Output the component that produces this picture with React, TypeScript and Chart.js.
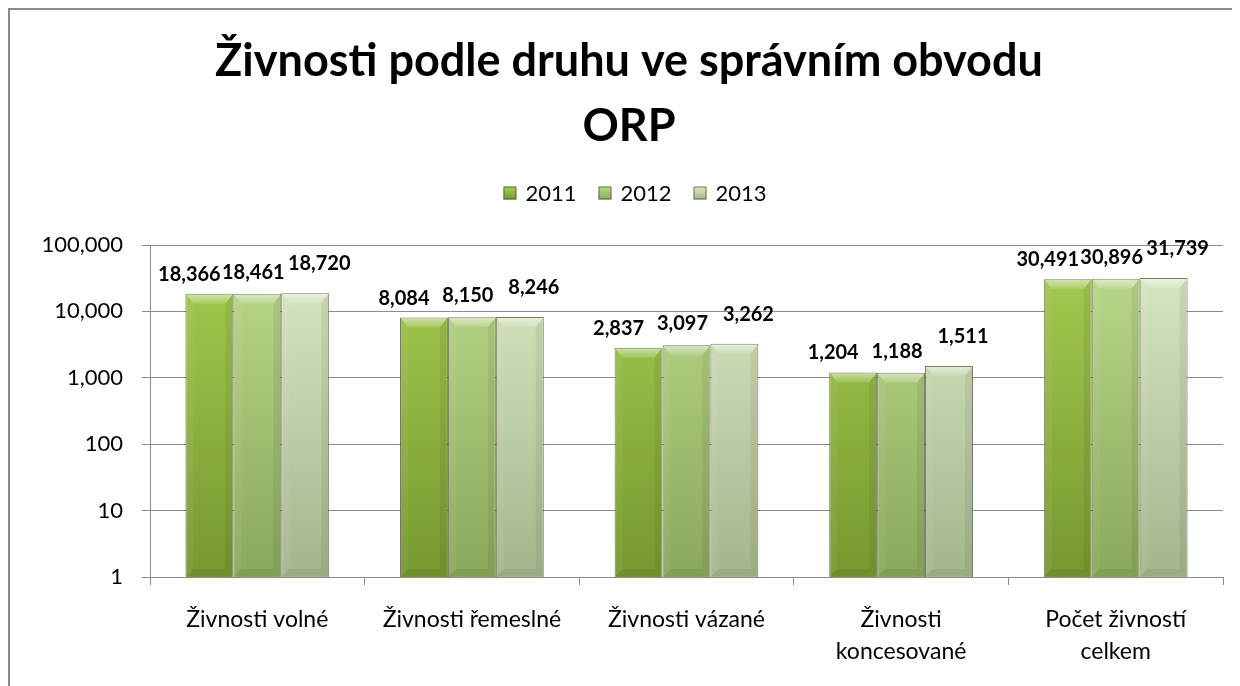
import React, { useEffect, useRef } from 'react';
import { Chart, registerables } from 'chart.js';

Chart.register(...registerables);

const titleLines = ['Živnosti podle druhu ve správním obvodu', 'ORP'];
const categories: (string | string[])[] = [
  'Živnosti volné',
  'Živnosti řemeslné',
  'Živnosti vázané',
  ['Živnosti', 'koncesované'],
  ['Počet živností', 'celkem'],
];
const years = ['2011', '2012', '2013'];
const values2011 = [18366, 8084, 2837, 1204, 30491];
const values2012 = [18461, 8150, 3097, 1188, 30896];
const values2013 = [18720, 8246, 3262, 1511, 31739];
const yTicks = [1, 10, 100, 1000, 10000, 100000];

const FONT = 'Lato, "Open Sans", sans-serif';
const seriesTop = ['#a6cd52', '#bddb8c', '#dbeac4'];
const seriesBottom = ['#76982f', '#8aa85b', '#a4b58c'];
const seriesMid = ['#8fb33f', '#a8c672', '#c3d3aa'];
const labelDx = [-20, -4, 14];
const labelDy = [0, -2, -10];

const makeFill = (i: number) => (ctx: any) => {
  const chart = ctx.chart;
  const ca = chart.chartArea;
  if (!ca) return seriesMid[i];
  const g = chart.ctx.createLinearGradient(0, ca.top, 0, ca.bottom);
  g.addColorStop(0, seriesTop[i]);
  g.addColorStop(1, seriesBottom[i]);
  return g;
};

const headerPlugin = {
  id: 'header',
  afterDraw(chart: any) {
    const ctx = chart.ctx;
    ctx.save();
    ctx.strokeStyle = '#8a8a8a';
    ctx.lineWidth = 2;
    ctx.beginPath();
    ctx.moveTo(1, chart.height);
    ctx.lineTo(1, 1);
    ctx.lineTo(chart.width, 1);
    ctx.stroke();
    ctx.fillStyle = '#000';
    ctx.font = `bold 45px ${FONT}`;
    ctx.textAlign = 'center';
    ctx.textBaseline = 'middle';
    titleLines.forEach((t, i) => ctx.fillText(t, 621, 53 + i * 65));
    ctx.font = `22px ${FONT}`;
    ctx.textAlign = 'left';
    const box = 13, gap = 9, spacing = 22;
    const widths = years.map((y) => box + gap + ctx.measureText(y).width);
    const total = widths.reduce((a, b) => a + b, 0) + spacing * (years.length - 1);
    let x = 627 - total / 2;
    const cy = 185;
    years.forEach((y, i) => {
      const g = ctx.createLinearGradient(0, cy - box / 2, 0, cy + box / 2);
      g.addColorStop(0, seriesTop[i]);
      g.addColorStop(1, seriesBottom[i]);
      ctx.fillStyle = g;
      ctx.fillRect(x, cy - box / 2, box, box);
      ctx.strokeStyle = 'rgba(70,80,50,0.7)';
      ctx.lineWidth = 1;
      ctx.strokeRect(x + 0.5, cy - box / 2 + 0.5, box - 1, box - 1);
      ctx.fillStyle = '#000';
      ctx.fillText(y, x + box + gap, cy + 1);
      x += widths[i] + spacing;
    });
    ctx.restore();
  },
};

const bevelPlugin = {
  id: 'bevel',
  afterDatasetsDraw(chart: any) {
    const ctx = chart.ctx;
    chart.data.datasets.forEach((_ds: any, di: number) => {
      const meta = chart.getDatasetMeta(di);
      meta.data.forEach((bar: any) => {
        const { x, y, base, width } = bar.getProps(['x', 'y', 'base', 'width'], true);
        const l = x - width / 2 + 1, r = x + width / 2 - 1, t = y + 1, b = base - 1;
        const d = 7;
        ctx.save();
        const tg = ctx.createLinearGradient(0, t, 0, t + d + 2);
        tg.addColorStop(0, 'rgba(255,255,255,0.5)');
        tg.addColorStop(1, 'rgba(255,255,255,0.1)');
        ctx.fillStyle = tg;
        ctx.beginPath();
        ctx.moveTo(l, t); ctx.lineTo(r, t); ctx.lineTo(r - d, t + d + 2); ctx.lineTo(l + d, t + d + 2);
        ctx.closePath(); ctx.fill();
        ctx.fillStyle = 'rgba(255,255,255,0.05)';
        ctx.beginPath();
        ctx.moveTo(l, t); ctx.lineTo(l + d, t + d + 2); ctx.lineTo(l + d, b - d); ctx.lineTo(l, b);
        ctx.closePath(); ctx.fill();
        ctx.fillStyle = 'rgba(0,0,0,0.06)';
        ctx.beginPath();
        ctx.moveTo(r, t); ctx.lineTo(r - d, t + d + 2); ctx.lineTo(r - d, b - d); ctx.lineTo(r, b);
        ctx.closePath(); ctx.fill();
        ctx.fillStyle = 'rgba(0,0,0,0.06)';
        ctx.beginPath();
        ctx.moveTo(l, b); ctx.lineTo(r, b); ctx.lineTo(r - d, b - d); ctx.lineTo(l + d, b - d);
        ctx.closePath(); ctx.fill();
        ctx.restore();
      });
    });
  },
};

const labelPlugin = {
  id: 'valueLabels',
  afterDatasetsDraw(chart: any) {
    const ctx = chart.ctx;
    ctx.save();
    ctx.font = `bold 20px ${FONT}`;
    ctx.fillStyle = '#000';
    ctx.textAlign = 'center';
    ctx.textBaseline = 'alphabetic';
    chart.data.datasets.forEach((ds: any, di: number) => {
      const meta = chart.getDatasetMeta(di);
      meta.data.forEach((bar: any, i: number) => {
        const v = ds.data[i];
        ctx.fillText(Number(v).toLocaleString('en-US'), bar.x + labelDx[di], bar.y - 13 + labelDy[di]);
      });
    });
    ctx.restore();
  },
};

export default function App() {
  const ref = useRef<HTMLCanvasElement | null>(null);
  useEffect(() => {
    if (!ref.current) return;
    const seriesValues = [values2011, values2012, values2013];
    const chart = new Chart(ref.current, {
      type: 'bar',
      data: {
        labels: categories as any,
        datasets: years.map((y, i) => ({
          label: y,
          data: seriesValues[i],
          backgroundColor: makeFill(i),
          borderColor: 'rgba(70,80,50,0.75)',
          borderWidth: 1,
          categoryPercentage: 0.67,
          barPercentage: 1,
        })),
      },
      options: {
        responsive: false,
        animation: false,
        devicePixelRatio: 1,
        layout: { padding: { top: 237, left: 0, right: 17, bottom: 0 } },
        plugins: {
          legend: { display: false },
          title: { display: false },
          tooltip: { enabled: false },
        },
        scales: {
          x: {
            grid: { display: true, drawOnChartArea: false, tickLength: 8, color: '#8c8c8c', offset: true },
            border: { display: true, color: '#8c8c8c', width: 1 },
            ticks: {
              color: '#000',
              font: { family: FONT, size: 23, lineHeight: 32 / 23 },
              padding: 19,
              maxRotation: 0,
              autoSkip: false,
            },
            afterFit: (s: any) => { s.height = 109; },
          },
          y: {
            type: 'logarithmic',
            min: 1,
            max: 100000,
            afterBuildTicks: (s: any) => { s.ticks = yTicks.map((v) => ({ value: v })); },
            grid: { color: '#8c8c8c', tickLength: 8 },
            border: { display: true, color: '#8c8c8c', width: 1 },
            ticks: {
              color: '#000',
              font: { family: FONT, size: 22 },
              padding: 19,
              callback: (v: any) => Number(v).toLocaleString('en-US'),
            },
            afterFit: (s: any) => { s.width = 142; },
          },
        },
      },
      plugins: [bevelPlugin, labelPlugin, headerPlugin],
    });
    return () => chart.destroy();
  }, []);
  return <canvas ref={ref} width={1232} height={678} style={{ display: 'block' }} />;
}
